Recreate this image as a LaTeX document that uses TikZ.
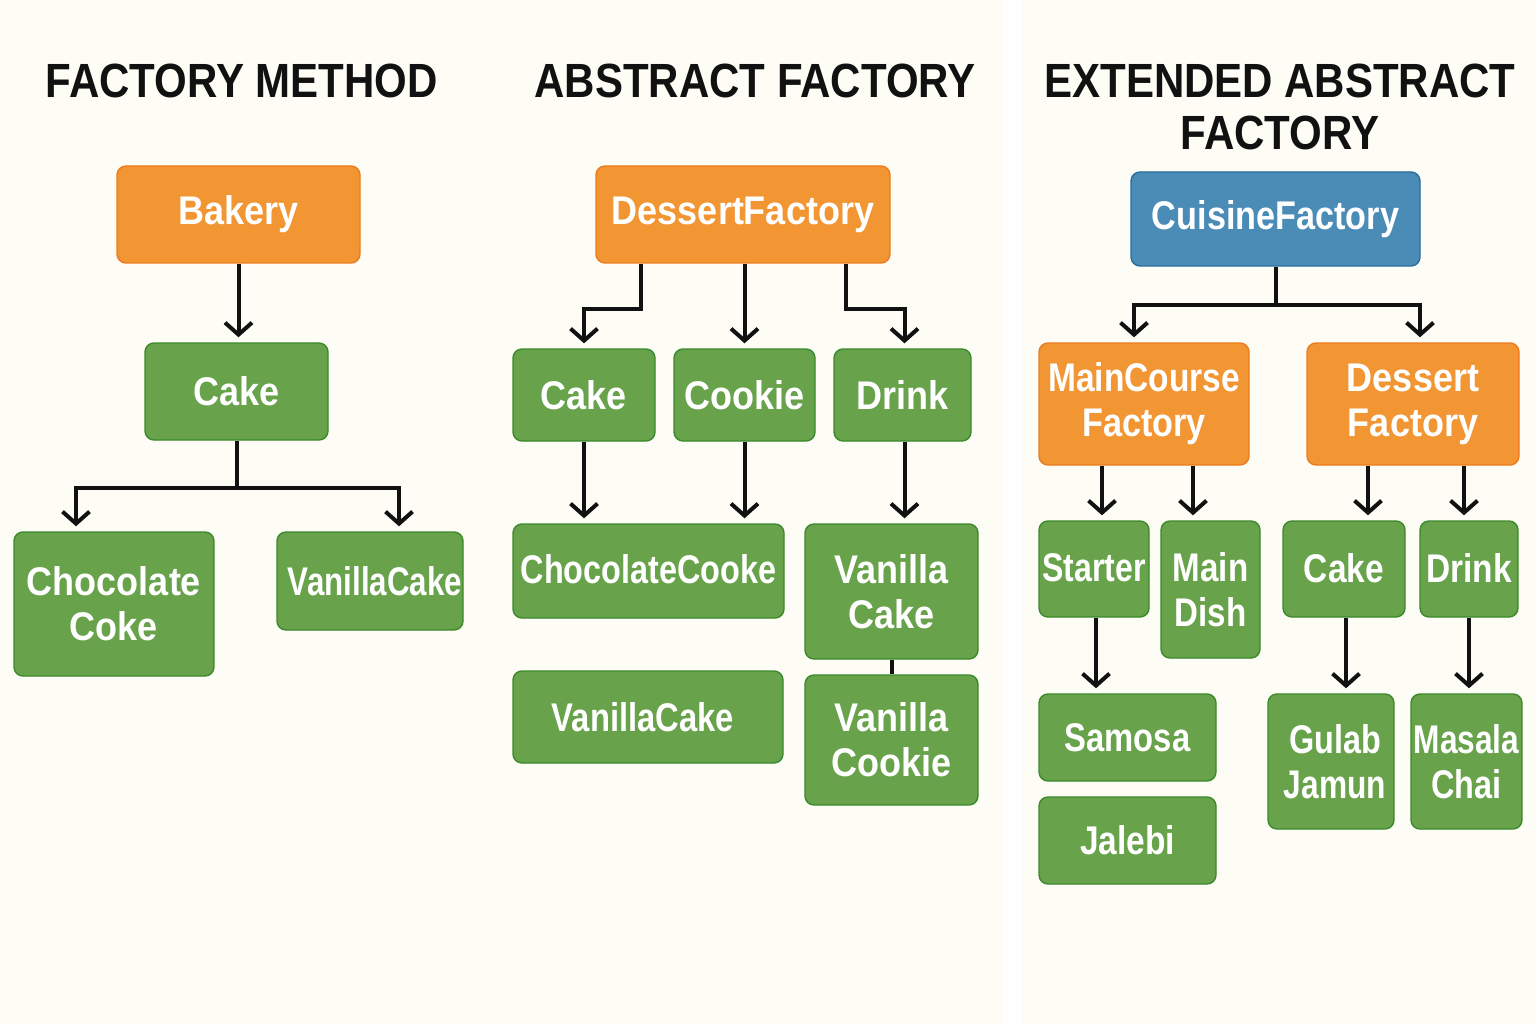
\documentclass[tikz,border=0pt]{standalone}
\usepackage{fontspec}
\usetikzlibrary{arrows.meta}
\newfontfamily\titlefont[FakeStretch=0.875]{Liberation Sans}
\newfontfamily\boxfont[FakeStretch=0.9]{Liberation Sans}
\newcommand{\ctr}[1]{\makebox[0pt][c]{#1}}
\newcommand{\sx}[2]{\scalebox{#1}[1]{#2}}
\definecolor{cream}{HTML}{FDFCF5}
\definecolor{orfill}{HTML}{F29533}
\definecolor{ordraw}{HTML}{EC7B1F}
\definecolor{grfill}{HTML}{68A34B}
\definecolor{grdraw}{HTML}{3B8A2B}
\definecolor{blfill}{HTML}{4A8CB6}
\definecolor{bldraw}{HTML}{2A6C9C}
\definecolor{ink}{HTML}{111111}
\tikzset{
  bx/.style={rectangle, rounded corners=9pt, line width=1.4pt, inner xsep=0pt, inner ysep=0pt,
    align=center, text=white, font=\boxfont\bfseries\fontsize{40}{45}\selectfont},
  orbox/.style={bx, fill=orfill, draw=ordraw},
  grbox/.style={bx, fill=grfill, draw=grdraw},
  blbox/.style={bx, fill=blfill, draw=bldraw},
  ttl/.style={text=ink, align=center, font=\titlefont\bfseries\fontsize{48}{52}\selectfont},
  arr/.style={draw=ink, line width=4pt, -{Straight Barb[length=12pt,width=27pt]}, shorten >=5pt},
  ln/.style={draw=ink, line width=4pt}
}
\begin{document}
\begin{tikzpicture}[x=1pt,y=-1pt]
\useasboundingbox (0,0) rectangle (1536,1024);
\fill[cream] (0,0) rectangle (1536,1024);
\fill[white] (1003,0) rectangle (1021,1024);

% titles
\node[ttl] (t1) at (242,81) {FACTORY METHOD};
\node[ttl] (t2) at (755,81) {ABSTRACT FACTORY};
\node[ttl] (t3) at (1280,107) {EXTENDED ABSTRACT\\FACTORY};

% panel 1
\node[orbox, text width=243pt, minimum height=97pt] (bakery) at (238.5,214.5) {Bakery};
\node[grbox, text width=183pt, minimum height=97pt] (cake1) at (236.5,391.5) {Cake};
\node[grbox, text width=200pt, minimum height=144pt] (choc1) at (114,604) {Chocolate\\Coke};
\node[grbox, text width=186pt, minimum height=98pt] (van1) at (370,581) {\ctr{\hspace*{10pt}\sx{0.87}{VanillaCake}}};

\draw[arr] (bakery.south) -- (bakery.south |- cake1.north);
\draw[arr] (cake1.south) -- ++(0,47) -| ([xshift=-38pt]choc1.north);
\draw[arr] (cake1.south) -- ++(0,47) -| ([xshift=29pt]van1.north);

% panel 2
\node[orbox, text width=294pt, minimum height=97pt] (df) at (743,214.5) {DessertFactory};
\node[grbox, text width=142pt, minimum height=92pt] (cake2) at (584,395) {Cake};
\node[grbox, text width=141pt, minimum height=92pt] (cookie2) at (744.5,395) {Cookie};
\node[grbox, text width=137pt, minimum height=92pt] (drink2) at (902.5,395) {Drink};
\node[grbox, text width=271pt, minimum height=94pt] (choccook) at (648.5,571) {\raisebox{4pt}{\sx{0.9}{ChocolateCooke}}};
\node[grbox, text width=270pt, minimum height=92pt] (vancake2) at (648,717) {\hspace*{-10pt}\sx{0.91}{VanillaCake}};
\node[grbox, text width=173pt, minimum height=135pt] (vcake) at (891.5,591.5) {Vanilla\\Cake};
\node[grbox, text width=173pt, minimum height=130pt] (vcookie) at (891.5,740) {Vanilla\\Cookie};

\coordinate (d1) at ([xshift=-102pt]df.south);
\coordinate (d3) at ([xshift=103pt]df.south);
\draw[arr] (d1) -- ++(0,45) -| (cake2.north);
\draw[arr] (cookie2.north |- df.south) -- (cookie2.north);
\draw[arr] (d3) -- ++(0,45) -| ([xshift=2pt]drink2.north);
\draw[arr] (cake2.south) -- (cake2.south |- choccook.north);
\draw[arr] (cookie2.south) -- (cookie2.south |- choccook.north);
\draw[arr] ([xshift=2pt]drink2.south) -- ([xshift=2pt]drink2.south |- vcake.north);
\draw[ln] (vcake.south) -- (vcookie.north);

% panel 3
\node[blbox, text width=289pt, minimum height=94pt] (cf) at (1275.5,219) {\sx{0.95}{CuisineFactory}};
\node[orbox, text width=210pt, minimum height=122pt] (mcf) at (1144,404) {\sx{0.93}{MainCourse}\\\sx{0.95}{Factory}};
\node[orbox, text width=212pt, minimum height=122pt] (dsf) at (1413,404) {Dessert\\Factory};
\node[grbox, text width=110pt, minimum height=96pt] (starter) at (1094,569) {\ctr{\raisebox{2pt}{\sx{0.89}{Starter}}}};
\node[grbox, text width=99pt, minimum height=137pt] (maindish) at (1210.5,589.5) {\sx{0.92}{Main}\\\sx{0.92}{Dish}};
\node[grbox, text width=177pt, minimum height=87pt] (samosa) at (1127.5,737.5) {\sx{0.91}{Samosa}};
\node[grbox, text width=177pt, minimum height=87pt] (jalebi) at (1127.5,840.5) {\sx{0.93}{Jalebi}};
\node[grbox, text width=122pt, minimum height=96pt] (cake3) at (1344,569) {\raisebox{2pt}{\sx{0.93}{Cake}}};
\node[grbox, text width=98pt, minimum height=96pt] (drink3) at (1469,569) {\raisebox{2pt}{\sx{0.93}{Drink}}};
\node[grbox, text width=126pt, minimum height=135pt] (gulab) at (1331,761.5) {\hspace*{8pt}\sx{0.9}{Gulab}\\\hspace*{8pt}\sx{0.88}{Jamun}};
\node[grbox, text width=111pt, minimum height=135pt] (masala) at (1466.5,761.5) {\ctr{\sx{0.88}{Masala}}\\\sx{0.9}{Chai}};

\draw[arr] (cf.south) -- ++(0,38) -| ([xshift=-10pt]mcf.north);
\draw[arr] (cf.south) -- ++(0,38) -| ([xshift=7pt]dsf.north);
\coordinate (m1) at ([xshift=-42pt]mcf.south);
\coordinate (m2) at ([xshift=49pt]mcf.south);
\coordinate (e1) at ([xshift=-45pt]dsf.south);
\coordinate (e2) at ([xshift=51pt]dsf.south);
\draw[arr] (m1) -- (m1 |- starter.north);
\draw[arr] (m2) -- (m2 |- maindish.north);
\draw[arr] (e1) -- (e1 |- cake3.north);
\draw[arr] (e2) -- (e2 |- drink3.north);
\draw[arr] ([xshift=2pt]starter.south) -- ([xshift=2pt]starter.south |- samosa.north);
\draw[arr] ([xshift=2pt]cake3.south) -- ([xshift=2pt]cake3.south |- gulab.north);
\draw[arr] (drink3.south) -- (drink3.south |- masala.north);
\end{tikzpicture}
\end{document}
